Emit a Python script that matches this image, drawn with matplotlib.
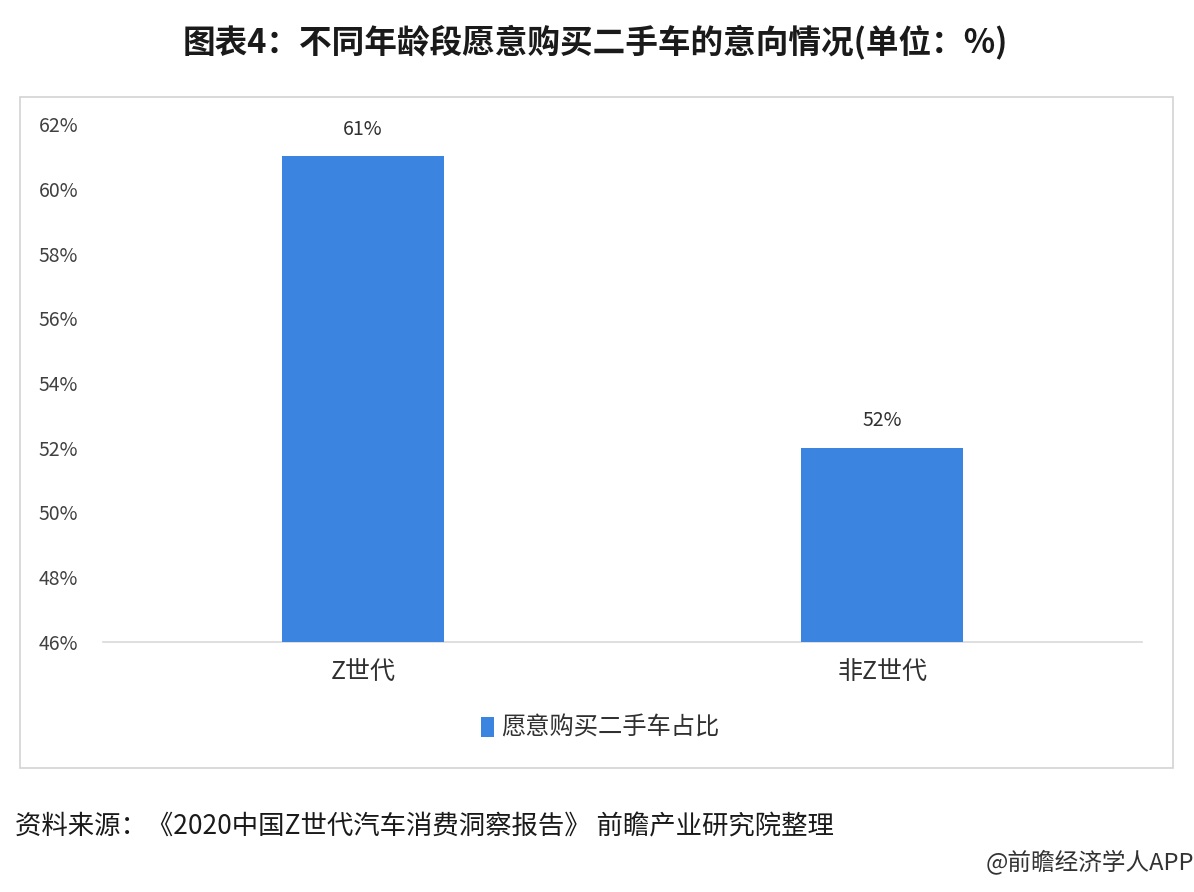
import matplotlib
matplotlib.use("Agg")
import matplotlib.pyplot as plt
from matplotlib.patches import Rectangle

plt.rcParams['font.family'] = ['Noto Sans CJK SC', 'DejaVu Sans']

categories = ["Z世代", "非Z世代"]
values = [61, 52]
series_name = "愿意购买二手车占比"
yticks = [46, 48, 50, 52, 54, 56, 58, 60, 62]
title = "图表4：不同年龄段愿意购买二手车的意向情况(单位：%)"
source = "资料来源：《2020中国Z世代汽车消费洞察报告》 前瞻产业研究院整理"
credit = "@前瞻经济学人APP"

W, H = 1194, 892
fig = plt.figure(figsize=(W / 100, H / 100), dpi=100)
fig.patch.set_facecolor("white")

# outer frame
fig.patches.append(Rectangle((20 / W, 1 - 768 / H), (1173 - 20) / W, (768 - 97) / H,
                             transform=fig.transFigure, fill=False,
                             edgecolor="#d3d3d3", linewidth=1.2))

ax = fig.add_axes([103 / W, 1 - 642 / H, (1142 - 103) / W, (642 - 124) / H])
x = list(range(len(categories)))
bars = ax.bar(x, values, width=0.312, color="#3B84E0", label=series_name, zorder=3)
ax.set_xlim(-0.5, 1.5)
ax.set_ylim(46, 62)
ax.set_yticks(yticks)
ax.set_yticklabels([f"{v}%" for v in yticks], fontsize=14, color="#404040")
ax.set_xticks(x)
ax.set_xticklabels(categories, fontsize=18, color="#303030")
ax.tick_params(axis="both", length=0)
ax.tick_params(axis="y", pad=18)
ax.tick_params(axis="x", pad=12)
for s in ["top", "right", "left"]:
    ax.spines[s].set_visible(False)
ax.spines["bottom"].set_color("#d9d9d9")
ax.spines["bottom"].set_linewidth(1.2)

for b, v in zip(bars, values):
    ax.annotate(f"{v}%", (b.get_x() + b.get_width() / 2, v), xytext=(0, 12),
                textcoords="offset points", ha="center", va="bottom",
                fontsize=14, color="#303030")

leg = fig.legend(handles=[bars], labels=[series_name], loc="center",
                 bbox_to_anchor=(600 / W, 1 - 728 / H), frameon=False,
                 fontsize=17.5, handlelength=0.55, handleheight=0.9, handletextpad=0.3)
for t in leg.get_texts():
    t.set_color("#303030")

fig.text(595 / W, 1 - 42 / H, title, ha="center", va="center",
         fontsize=23.5, fontweight="bold", color="#1a1a1a")
fig.text(15 / W, 1 - 827 / H, source, ha="left", va="center",
         fontsize=19, color="#1a1a1a")
fig.text(1194 / W, 1 - 862 / H, credit, ha="right", va="center",
         fontsize=17, color="#333333")

fig.savefig("out.png", dpi=100, facecolor="white")
